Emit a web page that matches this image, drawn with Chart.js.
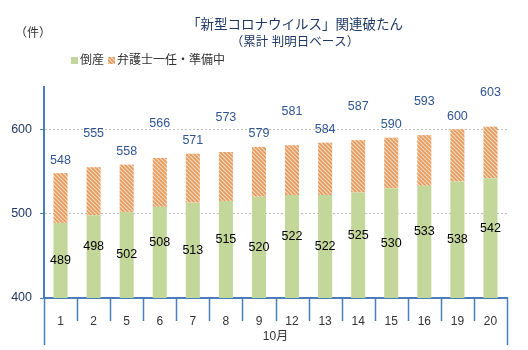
<!DOCTYPE html>
<html>
<head>
<meta charset="utf-8">
<script src="https://cdn.jsdelivr.net/npm/chart.js@4"></script>
<style>
  html, body { margin: 0; padding: 0; background: #fff; }
  #wrap { width: 528px; height: 350px; position: relative; }
</style>
</head>
<body>
<div id="wrap"><canvas id="c"></canvas></div>
<script>
// Data
const days = ['1', '2', '5', '6', '7', '8', '9', '12', '13', '14', '15', '16', '19', '20'];
const bankrupt = [489, 498, 502, 508, 513, 515, 520, 522, 522, 525, 530, 533, 538, 542];
const totals = [548, 555, 558, 566, 571, 573, 579, 581, 584, 587, 590, 593, 600, 603];
const pending = totals.map((t, i) => t - bankrupt[i]);
const monthLabel = '10月';
const yTicks = [400, 500, 600];

const JP = '"Liberation Sans", "Noto Sans CJK JP", sans-serif';
const AXIS = '#4A7EBB';
const GREEN = '#C4D79B';

function hatch() {
  const c = document.createElement('canvas');
  c.width = 4; c.height = 4;
  const g = c.getContext('2d');
  g.fillStyle = '#FADDC4';
  g.fillRect(0, 0, 4, 4);
  g.strokeStyle = '#E59A5C';
  g.lineWidth = 1.7;
  g.beginPath();
  for (let k = -1; k <= 1; k++) {
    g.moveTo(k * 4 - 1, -1);
    g.lineTo(k * 4 + 5, 5);
  }
  g.stroke();
  return g.createPattern(c, 'repeat');
}
const HATCH = hatch();

const decor = {
  id: 'decor',
  afterDraw(chart) {
    const ctx = chart.ctx;
    const area = chart.chartArea;
    ctx.save();
    // titles
    ctx.textAlign = 'center';
    ctx.textBaseline = 'middle';
    ctx.fillStyle = '#1F3864';
    ctx.font = '13.5px ' + JP;
    ctx.fillText('「新型コロナウイルス」関連破たん', 295, 25);
    ctx.font = '12.5px ' + JP;
    ctx.fillText('（累計 判明日ベース）', 295, 43);
    ctx.font = '12px ' + JP;
    ctx.fillStyle = '#333';
    ctx.fillText('（件）', 33, 34);
    // legend
    ctx.textAlign = 'left';
    ctx.fillStyle = GREEN;
    ctx.fillRect(71, 57, 7, 7);
    ctx.fillStyle = '#333';
    ctx.fillText('倒産', 80, 61);
    ctx.fillStyle = HATCH;
    ctx.fillRect(108, 57, 7, 7);
    ctx.fillStyle = '#333';
    ctx.fillText('弁護士一任・準備中', 117, 61);
    // category dividers
    ctx.strokeStyle = AXIS;
    ctx.lineWidth = 1.5;
    const w = (area.right - area.left) / days.length;
    for (let i = 0; i <= days.length; i++) {
      const px = Math.round(area.left + i * w) + 0.5;
      const outer = i === 0 || i === days.length;
      ctx.beginPath();
      ctx.moveTo(px, area.bottom);
      ctx.lineTo(px, outer ? 345 : 321);
      ctx.stroke();
    }
    ctx.textAlign = 'center';
    ctx.fillStyle = '#333';
    ctx.font = '12px ' + JP;
    ctx.fillText(monthLabel, (area.left + area.right) / 2, 337);
    ctx.restore();
  },
  afterDatasetsDraw(chart) {
    const ctx = chart.ctx;
    const y = chart.scales.y;
    const m1 = chart.getDatasetMeta(1);
    const base = y.getPixelForValue(400);
    ctx.save();
    ctx.textAlign = 'center';
    ctx.textBaseline = 'middle';
    ctx.font = '12.5px ' + JP;
    m1.data.forEach((bar, i) => {
      const gTop = y.getPixelForValue(bankrupt[i]);
      const mid = (gTop + base) / 2 + (i % 2 ? -10 : 0);
      ctx.fillStyle = '#000';
      ctx.fillText(String(bankrupt[i]), bar.x, mid);
      const tTop = y.getPixelForValue(totals[i]);
      ctx.fillStyle = '#2F5597';
      ctx.fillText(String(totals[i]), bar.x, tTop - (i % 2 ? 34 : 13));
    });
    ctx.restore();
  }
};

new Chart(document.getElementById('c'), {
  type: 'bar',
  data: {
    labels: days,
    datasets: [
      { label: '倒産', data: bankrupt, backgroundColor: GREEN, barPercentage: 0.85, categoryPercentage: 0.5 },
      { label: '弁護士一任・準備中', data: pending, backgroundColor: HATCH, barPercentage: 0.85, categoryPercentage: 0.5 }
    ]
  },
  options: {
    responsive: true,
    maintainAspectRatio: false,
    animation: false,
    layout: { padding: { top: 87, right: 21, bottom: 0, left: 0 } },
    plugins: { legend: { display: false }, tooltip: { enabled: false } },
    scales: {
      x: {
        stacked: true,
        offset: true,
        grid: { display: false },
        border: { color: AXIS, width: 2 },
        ticks: { color: '#333', font: { size: 12, family: JP }, padding: 8, maxRotation: 0, autoSkip: false },
        afterFit(s) { s.height = 52; }
      },
      y: {
        stacked: true,
        min: 400,
        max: 650,
        afterBuildTicks(s) { s.ticks = yTicks.map(v => ({ value: v })); },
        grid: {
          color: c => c.tick && c.tick.value === 400 ? 'rgba(0,0,0,0)' : '#BFBFBF',
          tickColor: AXIS,
          tickLength: 4,
          lineWidth: 1
        },
        border: { color: AXIS, width: 2, dash: [2, 2] },
        ticks: { color: '#1F3864', font: { size: 12.5, family: JP }, padding: 8 },
        afterFit(s) { s.width = 44; }
      }
    }
  },
  plugins: [decor]
});
</script>
</body>
</html>
